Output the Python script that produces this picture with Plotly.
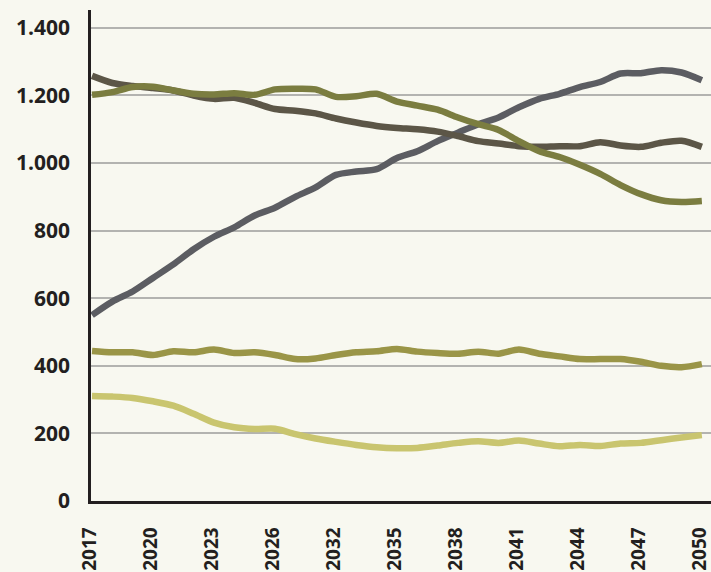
import plotly.graph_objects as go

# tick labels shown on the category axis (every third point)
tick_labels = ["2017", "2020", "2023", "2026", "2032", "2035", "2038", "2041", "2044", "2047", "2050"]
n_points = 31
x_index = list(range(n_points))

series_gray = [550, 590, 620, 660, 700, 745, 782, 810, 845, 868, 900, 928, 965, 975, 982, 1015,
               1035, 1065, 1090, 1115, 1135, 1165, 1190, 1205, 1225, 1240, 1265, 1266, 1275, 1268, 1245]
series_brown = [1258, 1237, 1228, 1222, 1215, 1200, 1190, 1193, 1178, 1160, 1155, 1147, 1132, 1120, 1110, 1104,
                1100, 1093, 1080, 1065, 1058, 1050, 1048, 1050, 1050, 1062, 1052, 1048, 1060, 1066, 1048]
series_green = [1202, 1210, 1225, 1226, 1215, 1205, 1203, 1207, 1202, 1218, 1220, 1218, 1196, 1198, 1205, 1182,
                1170, 1158, 1135, 1115, 1098, 1065, 1035, 1018, 995, 968, 935, 908, 890, 885, 888]
series_olive = [444, 440, 440, 432, 443, 440, 448, 438, 440, 432, 420, 422, 432, 440, 443, 450,
                442, 438, 436, 442, 436, 448, 436, 428, 420, 420, 420, 412, 400, 396, 405]
series_yellow = [311, 309, 305, 295, 282, 258, 232, 218, 213, 214, 198, 185, 175, 166, 159, 156,
                 157, 164, 172, 177, 172, 179, 170, 162, 166, 163, 170, 172, 180, 188, 195]

y_ticks = [0, 200, 400, 600, 800, 1000, 1200, 1400]

colors = {
    "yellow": "#c9c56f",
    "olive": "#9a9547",
    "gray": "#5c5d62",
    "brown": "#5c5647",
    "green": "#7b7d40",
}

fig = go.Figure()
for name, vals in [("yellow", series_yellow), ("olive", series_olive), ("gray", series_gray),
                   ("brown", series_brown), ("green", series_green)]:
    fig.add_trace(go.Scatter(
        x=x_index, y=vals, mode="lines", name=name,
        line=dict(color=colors[name], width=6.5, shape="spline", smoothing=0.8),
        hoverinfo="skip", cliponaxis=False,
    ))

bg = "#f8f8f0"
fig.update_layout(
    width=711, height=572,
    margin=dict(l=91, r=0, t=10, b=71),
    paper_bgcolor=bg, plot_bgcolor=bg,
    showlegend=False,
    separators=",.",
    font=dict(family="Open Sans", color="#231f20"),
)
fig.update_xaxes(
    range=[-0.05, 30.45], automargin=False,
    tickvals=x_index[::3], ticktext=tick_labels,
    tickangle=-90, ticklabeloverflow="allow", ticklabelshift=-2,
    tickfont=dict(size=19, family="Open Sans", weight="bold", color="#231f20"),
    showgrid=False, zeroline=False,
    showline=True, linecolor="#231f20", linewidth=2.5,
    ticks="outside", ticklen=16, tickcolor=bg,
)
fig.update_yaxes(
    range=[0, 1453], automargin=False,
    tickvals=y_ticks, tickformat=",d",
    tickfont=dict(size=21, family="Open Sans", weight="bold", color="#231f20"),
    showgrid=True, gridcolor="#b3b3b0", gridwidth=1.5,
    zeroline=False,
    showline=True, linecolor="#231f20", linewidth=2.5,
    ticks="outside", ticklen=14, tickcolor=bg,
)
fig.write_html(
    "out.html",
    config={"displayModeBar": False},
    post_script="document.body.style.margin='0';document.body.style.padding='0';"
                "document.body.style.background='" + bg + "';",
)
